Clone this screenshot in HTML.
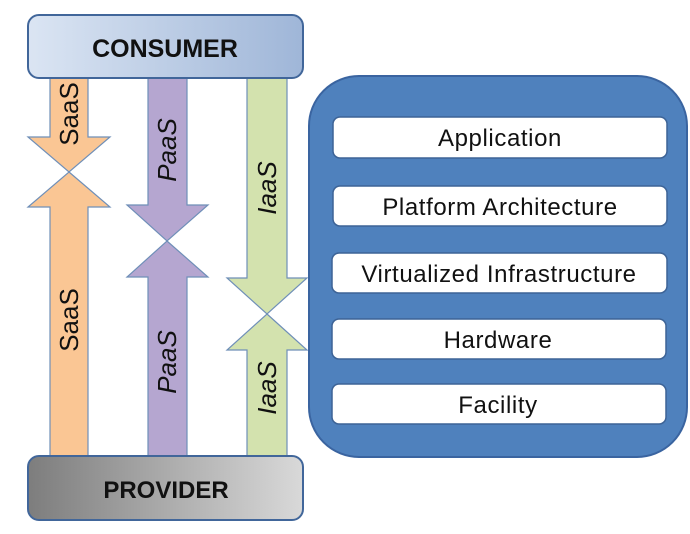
<!DOCTYPE html>
<html><head><meta charset="utf-8"><style>
body{margin:0;width:690px;height:529px;background:#fff;overflow:hidden;font-family:"Liberation Sans",sans-serif}
</style></head><body>
<svg width="690" height="529" viewBox="0 0 690 529" xmlns="http://www.w3.org/2000/svg">
<defs>
<linearGradient id="gc" x1="0" x2="1"><stop offset="0" stop-color="#dbe5f3"/><stop offset="1" stop-color="#9fb6d8"/></linearGradient>
<linearGradient id="gp" x1="0" x2="1"><stop offset="0" stop-color="#7d7d7d"/><stop offset="1" stop-color="#d9d9d9"/></linearGradient>
</defs>
<g stroke="#6f8fb8" stroke-width="1.2">
<polygon fill="#fac694" points="50,75 88,75 88,137 110,137 69,172 28,137 50,137"/>
<polygon fill="#fac694" points="69,172 110,207 88,207 88,458 50,458 50,207 28,207"/>
<polygon fill="#b5a6d0" points="148,75 187,75 187,205 208,205 167,241 127,205 148,205"/>
<polygon fill="#b5a6d0" points="167,241 208,277 187,277 187,458 148,458 148,277 127,277"/>
<polygon fill="#d3e2ae" points="247,75 287,75 287,278 307,278 267,314 227,278 247,278"/>
<polygon fill="#d3e2ae" points="267,314 307,350 287,350 287,458 247,458 247,350 227,350"/>
</g>
<rect x="28" y="15" width="275" height="63" rx="11" fill="url(#gc)" stroke="#41669a" stroke-width="2"/>
<text x="165" y="57" text-anchor="middle" font-size="25" font-weight="bold" fill="#111">CONSUMER</text>
<rect x="28" y="456" width="275" height="64" rx="11" fill="url(#gp)" stroke="#41669a" stroke-width="2"/>
<text x="166" y="498" text-anchor="middle" font-size="24" font-weight="bold" fill="#111">PROVIDER</text>
<g font-size="26" fill="#111" text-anchor="middle">
<text transform="translate(78,114) rotate(-90)">SaaS</text>
<text transform="translate(78,320) rotate(-90)">SaaS</text>
<text transform="translate(176,150) rotate(-90)" font-style="italic">PaaS</text>
<text transform="translate(176,362) rotate(-90)" font-style="italic">PaaS</text>
<text transform="translate(276,188) rotate(-90)" font-style="italic">IaaS</text>
<text transform="translate(276,388) rotate(-90)" font-style="italic">IaaS</text>
</g>
<rect x="309" y="76" width="378" height="381" rx="50" fill="#4f81bd" stroke="#3a64a0" stroke-width="2"/>
<g fill="#fff" stroke="#3d6396" stroke-width="1.5">
<rect x="333" y="117" width="334" height="41" rx="7"/>
<rect x="333" y="186" width="334" height="40" rx="7"/>
<rect x="332" y="253" width="335" height="40" rx="7"/>
<rect x="332" y="319" width="334" height="40" rx="7"/>
<rect x="332" y="384" width="334" height="40" rx="7"/>
</g>
<g font-size="24" fill="#111" text-anchor="middle" letter-spacing="0.6">
<text x="500" y="146">Application</text>
<text x="500" y="215">Platform Architecture</text>
<text x="499" y="282">Virtualized Infrastructure</text>
<text x="498" y="348">Hardware</text>
<text x="498" y="413">Facility</text>
</g>
</svg>
</body></html>
